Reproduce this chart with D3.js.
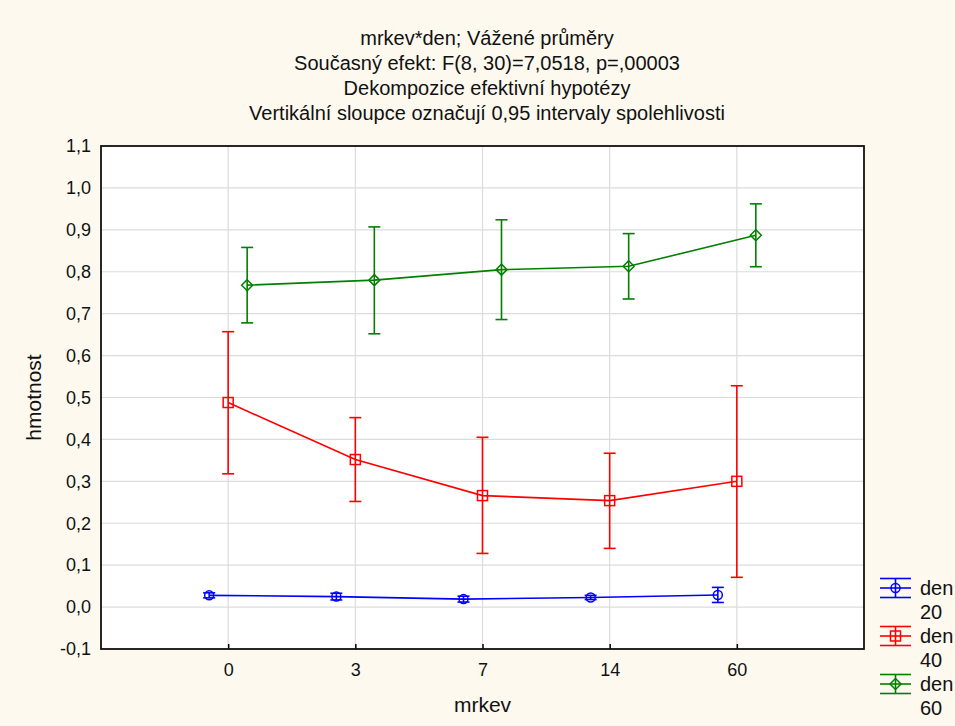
<!DOCTYPE html>
<html>
<head>
<meta charset="utf-8">
<script src="https://cdn.jsdelivr.net/npm/d3@7"></script>
<style>
  body { margin: 0; background: #fdf9ef; }
  text { font-family: Arial, "Liberation Sans", sans-serif; fill: #111; }
</style>
</head>
<body>
<svg id="chart"></svg>
<script>
// categories on x (mrkev) and the three series (den)
const categories = ['0', '3', '7', '14', '60'];
const series = ['20', '40', '60'];
const seriesColors = ['#0000ff', '#ff0000', '#008000'];
const seriesMarkers = ['circle', 'square', 'diamond'];

// weighted means and 0.95 confidence limits
const means20 = [0.028, 0.025, 0.019, 0.023, 0.029];
const lower20 = [0.022, 0.017, 0.012, 0.018, 0.011];
const upper20 = [0.034, 0.033, 0.026, 0.028, 0.047];

const means40 = [0.488, 0.352, 0.266, 0.254, 0.300];
const lower40 = [0.318, 0.252, 0.128, 0.140, 0.071];
const upper40 = [0.657, 0.452, 0.405, 0.367, 0.528];

const means60 = [0.768, 0.780, 0.805, 0.813, 0.887];
const lower60 = [0.678, 0.652, 0.686, 0.735, 0.812];
const upper60 = [0.858, 0.907, 0.924, 0.891, 0.962];

const yTicks = [-0.1, 0.0, 0.1, 0.2, 0.3, 0.4, 0.5, 0.6, 0.7, 0.8, 0.9, 1.0, 1.1];

const titleLines = [
    'mrkev*den; Vážené průměry',
    'Současný efekt: F(8, 30)=7,0518, p=,00003',
    'Dekompozice efektivní hypotézy',
    'Vertikální sloupce označují 0,95 intervaly spolehlivosti'
];

const width = 955;
const height = 726;
const plot = { left: 101, right: 864, top: 146, bottom: 649 };

const svg = d3.select('#chart')
    .attr('width', width)
    .attr('height', height);

svg.append('rect')
    .attr('width', width)
    .attr('height', height)
    .attr('fill', '#fdf9ef');

const xScale = d3.scalePoint()
    .domain(categories)
    .range([plot.left, plot.right])
    .padding(1);

const offset = d3.scalePoint()
    .domain(series)
    .range([-19, 19]);

const yScale = d3.scaleLinear()
    .domain([-0.1, 1.1])
    .range([plot.bottom, plot.top]);

const czFormat = d3.formatLocale({ decimal: ',', thousands: ' ', grouping: [3], currency: ['', ''], minus: '-' }).format('.1f');

// plot background
svg.append('rect')
    .attr('x', plot.left)
    .attr('y', plot.top)
    .attr('width', plot.right - plot.left)
    .attr('height', plot.bottom - plot.top)
    .attr('fill', '#fff');

// grid
const grid = svg.append('g').attr('stroke', '#dcdcdc').attr('stroke-width', 1.2);
grid.selectAll('.hgrid')
    .data(yTicks)
    .enter().append('line')
    .attr('x1', plot.left)
    .attr('x2', plot.right)
    .attr('y1', d => yScale(d))
    .attr('y2', d => yScale(d));
grid.selectAll('.vgrid')
    .data(categories)
    .enter().append('line')
    .attr('x1', d => xScale(d))
    .attr('x2', d => xScale(d))
    .attr('y1', plot.top)
    .attr('y2', plot.bottom);

// axes
const yAxis = d3.axisLeft(yScale)
    .tickValues(yTicks)
    .tickFormat(czFormat)
    .tickSize(0)
    .tickPadding(10);
const gy = svg.append('g')
    .attr('transform', `translate(${plot.left},0)`)
    .call(yAxis);
gy.select('.domain').remove();
gy.selectAll('text').attr('font-size', 18).attr('fill', '#111');

const xAxis = d3.axisBottom(xScale)
    .tickSize(-5)
    .tickPadding(14);
const gx = svg.append('g')
    .attr('transform', `translate(0,${plot.bottom})`)
    .call(xAxis);
gx.select('.domain').remove();
gx.selectAll('line').attr('stroke', '#000').attr('stroke-width', 1.5);
gx.selectAll('text').attr('font-size', 18).attr('fill', '#111');

// frame
svg.append('rect')
    .attr('x', plot.left)
    .attr('y', plot.top)
    .attr('width', plot.right - plot.left)
    .attr('height', plot.bottom - plot.top)
    .attr('fill', 'none')
    .attr('stroke', '#111')
    .attr('stroke-width', 1.8);

// series data
const allSeries = [
    { key: series[0], means: means20, lower: lower20, upper: upper20 },
    { key: series[1], means: means40, lower: lower40, upper: upper40 },
    { key: series[2], means: means60, lower: lower60, upper: upper60 }
];

function drawMarker(g, type, x, y, color) {
    if (type === 'circle') {
        g.append('circle').attr('cx', x).attr('cy', y).attr('r', 4.5)
            .attr('fill', 'none').attr('stroke', color).attr('stroke-width', 1.5);
    } else if (type === 'square') {
        g.append('rect').attr('x', x - 5).attr('y', y - 5).attr('width', 10).attr('height', 10)
            .attr('fill', 'none').attr('stroke', color).attr('stroke-width', 1.5);
    } else {
        g.append('path').attr('d', `M${x},${y - 5.5}L${x + 5.5},${y}L${x},${y + 5.5}L${x - 5.5},${y}Z`)
            .attr('fill', 'none').attr('stroke', color).attr('stroke-width', 1.5);
    }
}

const capHalf = 6;
allSeries.forEach((s, si) => {
    const color = seriesColors[si];
    const g = svg.append('g');
    const px = i => xScale(categories[i]) + offset(s.key);

    g.append('path')
        .datum(s.means)
        .attr('fill', 'none')
        .attr('stroke', color)
        .attr('stroke-width', 1.6)
        .attr('d', d3.line().x((d, i) => px(i)).y(d => yScale(d)));

    s.means.forEach((m, i) => {
        const x = px(i);
        const eb = g.append('g').attr('stroke', color).attr('stroke-width', 1.6);
        eb.append('line').attr('x1', x).attr('x2', x)
            .attr('y1', yScale(s.lower[i])).attr('y2', yScale(s.upper[i]));
        eb.append('line').attr('x1', x - capHalf).attr('x2', x + capHalf)
            .attr('y1', yScale(s.lower[i])).attr('y2', yScale(s.lower[i]));
        eb.append('line').attr('x1', x - capHalf).attr('x2', x + capHalf)
            .attr('y1', yScale(s.upper[i])).attr('y2', yScale(s.upper[i]));
        drawMarker(g, seriesMarkers[si], x, yScale(m), color);
    });
});

// titles
svg.append('g').selectAll('text')
    .data(titleLines)
    .enter().append('text')
    .attr('x', 487)
    .attr('y', (d, i) => 45 + i * 25)
    .attr('text-anchor', 'middle')
    .attr('font-size', 20)
    .text(d => d);

// axis labels
svg.append('text')
    .attr('transform', `translate(41,${(plot.top + plot.bottom) / 2}) rotate(-90)`)
    .attr('text-anchor', 'middle')
    .attr('font-size', 21)
    .text('hmotnost');

svg.append('text')
    .attr('x', (plot.left + plot.right) / 2)
    .attr('y', 712)
    .attr('text-anchor', 'middle')
    .attr('font-size', 21)
    .text('mrkev');

// legend
const legend = svg.append('g');
series.forEach((s, i) => {
    const cy = 588 + i * 48;
    const color = seriesColors[i];
    const lg = legend.append('g').attr('stroke', color).attr('stroke-width', 1.6);
    [-9.5, 0, 9.5].forEach(dy => {
        lg.append('line').attr('x1', 880).attr('x2', 911).attr('y1', cy + dy).attr('y2', cy + dy);
    });
    lg.append('line').attr('x1', 895.5).attr('x2', 895.5).attr('y1', cy - 9.5).attr('y2', cy + 9.5);
    drawMarker(legend, seriesMarkers[i], 895.5, cy, color);
    legend.append('text').attr('x', 920).attr('y', cy + 7).attr('font-size', 20).text('den');
    legend.append('text').attr('x', 920).attr('y', cy + 31).attr('font-size', 20).text(s);
});
</script>
</body>
</html>
